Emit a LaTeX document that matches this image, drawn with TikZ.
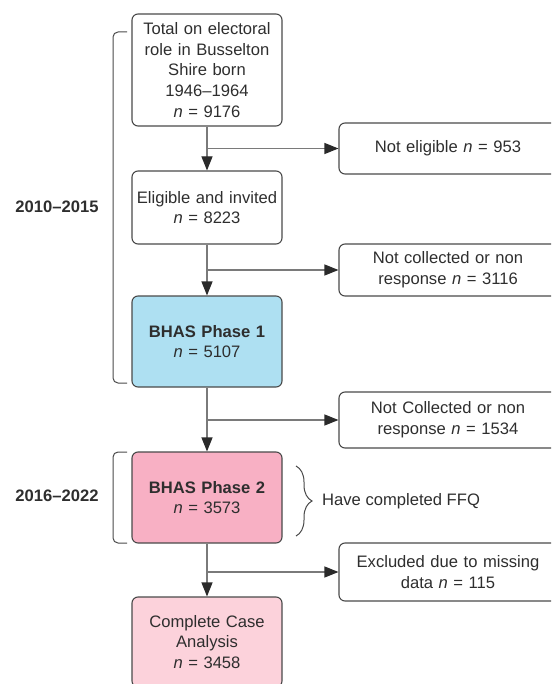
\documentclass[tikz,border=0pt]{standalone}
\usepackage{fontspec}
\setmainfont{Liberation Sans}
\usetikzlibrary{arrows.meta,decorations.pathreplacing}
\definecolor{txt}{HTML}{2E2E2E}
\definecolor{edge}{HTML}{4A4A4A}
\definecolor{conn}{HTML}{7A7A7A}
\definecolor{tipc}{HTML}{2A2A2A}
\definecolor{blue1}{HTML}{AEE0F2}
\definecolor{pink1}{HTML}{F8B0C4}
\definecolor{pink2}{HTML}{FCD2DB}
\tikzset{
  box/.style={draw=edge, line width=1.1pt, rounded corners=6pt, align=center,
    text=txt, font=\fontsize{16.6}{20.6}\selectfont, inner sep=2pt},
  leftbox/.style={box, minimum width=150pt, text width=146pt},
  rightbox/.style={box, minimum width=218pt, text width=200pt},
  conn/.style={draw=conn, line width=1.1pt},
  arr/.style={conn, -{Triangle[length=14pt,width=11pt,color=tipc]}},
  bracket/.style={draw=edge, line width=1pt, rounded corners=5pt},
  lbl/.style={text=txt, font=\fontsize{16.6}{20.6}\selectfont\bfseries},
}
\begin{document}
\begin{tikzpicture}[x=1pt,y=-1pt]
\useasboundingbox (0,0) rectangle (551,684);
\clip (0,0) rectangle (551,684);
% main column
\node[leftbox, minimum height=112pt] (b1) at (207,70)
  {Total on electoral\\role in Busselton\\Shire born\\1946–1964\\\textit{n} = 9176};
\node[leftbox, minimum height=73pt] (b2) at (207,207.5)
  {Eligible and invited\\\textit{n} = 8223};
\node[leftbox, minimum height=91pt, fill=blue1] (b3) at (207,341.5)
  {\textbf{BHAS Phase 1}\\\textit{n} = 5107};
\node[leftbox, minimum height=91pt, fill=pink1] (b4) at (207,497.5)
  {\textbf{BHAS Phase 2}\\\textit{n} = 3573};
\node[leftbox, minimum height=90pt, fill=pink2] (b5) at (207,642)
  {Complete Case\\Analysis\\\textit{n} = 3458};
% side boxes
\node[rightbox, minimum height=51pt] (r1) at (448,148.5) {Not eligible \textit{n} = 953};
\node[rightbox, minimum height=52pt] (r2) at (448,270) {Not collected or non\\response \textit{n} = 3116};
\node[rightbox, minimum height=56pt] (r3) at (448,420) {Not Collected or non\\response \textit{n} = 1534};
\node[rightbox, minimum height=58pt] (r4) at (448,572) {Excluded due to missing\\data \textit{n} = 115};
% vertical arrows
\draw[arr] (b1.south) -- (b2.north);
\draw[arr] (b2.south) -- (b3.north);
\draw[arr] (b3.south) -- (b4.north);
\draw[arr] (b4.south) -- (b5.north);
% branch arrows
\draw[arr] (b1.south |- r1.west) -- (r1.west);
\draw[arr] (b2.south |- r2.west) -- (r2.west);
\draw[arr] (b3.south |- r3.west) -- (r3.west);
\draw[arr] (b4.south |- r4.west) -- (r4.west);
% period brackets
\coordinate (k1a) at (127,32);
\coordinate (k1b) at (127,383);
\coordinate (k2a) at (127,452);
\coordinate (k2b) at (127,543);
\draw[bracket] (k1a) -- (113,32) -- (113,383) -- (k1b);
\draw[bracket] (k2a) -- (113,452) -- (113,543) -- (k2b);
\node[lbl] (p1) at (57,207) {2010–2015};
\node[lbl] (p2) at (57,496) {2016–2022};
% curly brace
\coordinate (c1) at (296,466);
\coordinate (c2) at (296,536);
\draw[draw=edge, line width=1pt, decorate, decoration={brace, amplitude=16pt}] (c1) -- (c2);
\node[anchor=west, text=txt, font=\fontsize{16.6}{20.6}\selectfont, inner sep=0pt] (ffq) at (322,501) {Have completed FFQ};
\end{tikzpicture}
\end{document}
